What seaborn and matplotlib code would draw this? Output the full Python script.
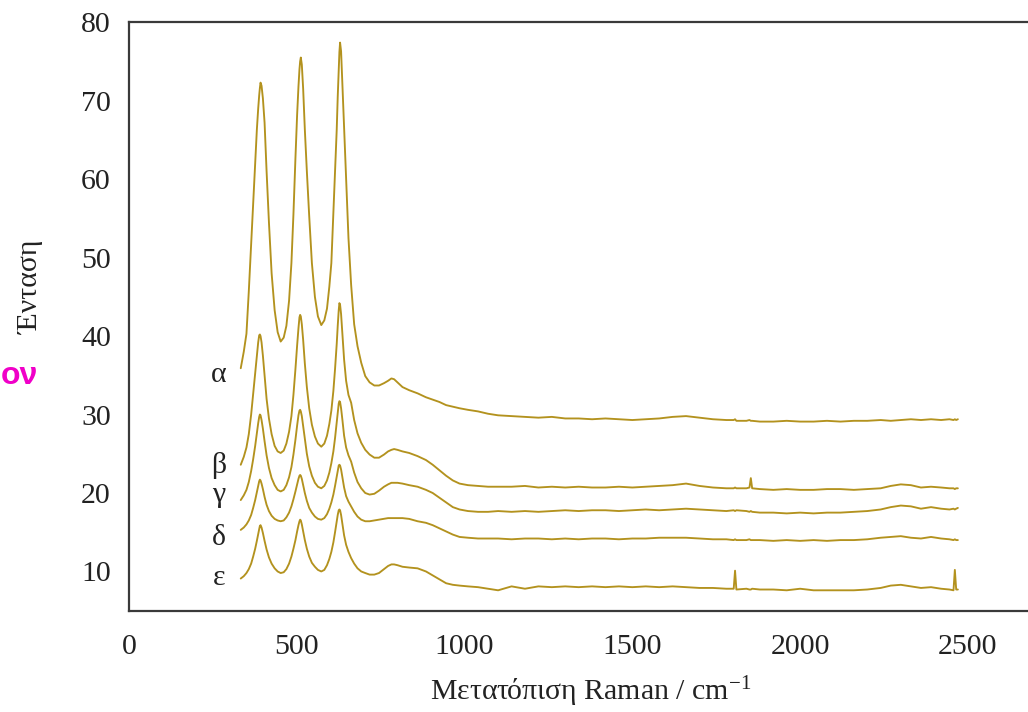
import numpy as np
import pandas as pd
import matplotlib
matplotlib.use("Agg")
import matplotlib.pyplot as plt
import seaborn as sns

# ---------------- data ----------------
wavenumber = [
    333, 342, 350, 357, 364, 370, 376, 381, 385, 388,
    390, 392, 395, 399, 404, 410, 417, 425, 434, 443,
    452, 461, 469, 477, 484, 490, 496, 501, 505, 508,
    510, 512, 515, 519, 524, 530, 537, 545, 554, 563,
    573, 582, 590, 597, 603, 609, 614, 619, 622, 625,
    627, 629, 632, 636, 641, 647, 654, 662, 671, 681,
    692, 704, 717, 731, 745, 760, 772, 782, 790, 800,
    815, 835, 860, 885, 905, 925, 945, 965, 985, 1010,
    1040, 1070, 1100,
    1140, 1180, 1220, 1260, 1300, 1340, 1380, 1420, 1460, 1500,
    1540, 1580, 1620, 1660, 1700, 1740, 1780, 1802, 1806, 1810,
    1840, 1849, 1853, 1857, 1880, 1920, 1960, 2000, 2040, 2080,
    2120, 2160, 2200, 2240, 2270, 2300, 2330, 2360, 2390, 2420,
    2445, 2457, 2461, 2465, 2470,
]

alpha = [
    35.9, 38.0, 40.3, 45.7, 51.8, 57.0, 62.0, 66.3, 69.0, 70.7,
    71.6, 72.3, 71.9, 70.3, 67.2, 61.0, 54.5, 48.0, 43.3, 40.5,
    39.3, 39.8, 41.3, 44.5, 49.3, 55.5, 62.7, 68.2, 71.8, 74.0,
    75.0, 75.5, 74.6, 71.5, 66.3, 61.0, 55.3, 49.3, 45.0, 42.5,
    41.4, 42.0, 43.5, 46.3, 49.3, 55.7, 61.0, 66.3, 70.5, 74.0,
    76.2, 77.4, 76.3, 72.0, 66.3, 60.0, 52.5, 46.5, 41.5, 38.7,
    36.6, 34.9, 34.1, 33.7, 33.7, 34.0, 34.3, 34.6, 34.5, 34.1,
    33.5, 33.1, 32.7, 32.2, 31.9, 31.6, 31.2, 31.0, 30.8, 30.6,
    30.4, 30.1, 29.9,
    29.8, 29.7, 29.6, 29.7, 29.5, 29.5, 29.4, 29.5, 29.4, 29.3,
    29.4, 29.5, 29.7, 29.8, 29.6, 29.4, 29.3, 29.3, 29.4, 29.2,
    29.2, 29.3, 29.2, 29.2, 29.1, 29.1, 29.2, 29.1, 29.1, 29.2,
    29.1, 29.2, 29.2, 29.3, 29.2, 29.3, 29.4, 29.3, 29.4, 29.3,
    29.4, 29.3, 29.4, 29.3, 29.4,
]

beta = [
    23.6, 24.6, 25.8, 27.5, 30.0, 32.6, 35.2, 37.5, 39.2, 40.1,
    40.2, 40.0, 39.2, 37.5, 35.0, 32.0, 29.5, 27.5, 26.0, 25.3,
    25.1, 25.4, 26.3, 27.8, 29.8, 32.5, 35.8, 38.8, 41.0, 42.4,
    42.7, 42.5, 41.5, 39.5, 36.5, 33.5, 30.8, 28.7, 27.2, 26.3,
    25.9, 26.3, 27.3, 28.8, 30.5, 33.0, 35.8, 39.0, 41.3, 43.3,
    44.2, 44.0, 42.8, 40.2, 37.0, 34.3, 32.5, 31.5, 29.3, 27.6,
    26.4, 25.5, 24.9, 24.5, 24.5, 24.9, 25.3, 25.5, 25.6, 25.5,
    25.3, 25.1, 24.7, 24.2, 23.6, 22.9, 22.2, 21.6, 21.2, 21.0,
    20.9, 20.8, 20.8,
    20.8, 20.9, 20.7, 20.8, 20.7, 20.8, 20.7, 20.7, 20.8, 20.7,
    20.8, 20.9, 21.0, 21.2, 20.9, 20.7, 20.6, 20.6, 20.7, 20.6,
    20.6, 20.7, 21.9, 20.6, 20.5, 20.4, 20.5, 20.4, 20.4, 20.5,
    20.5, 20.4, 20.5, 20.6, 20.9, 21.1, 21.0, 20.7, 20.8, 20.7,
    20.6, 20.6, 20.5, 20.6, 20.6,
]

gamma = [
    19.1, 19.7, 20.4, 21.4, 22.8, 24.3, 26.0, 27.6, 28.9, 29.7,
    30.0, 29.9, 29.3, 28.2, 26.6, 24.8, 23.2, 21.9, 21.0, 20.4,
    20.2, 20.4, 21.0, 22.0, 23.3, 24.9, 26.8, 28.6, 29.9, 30.5,
    30.6, 30.4, 29.8, 28.5, 26.8, 25.0, 23.4, 22.2, 21.3, 20.8,
    20.6, 20.9, 21.6, 22.6, 23.8, 25.3, 27.0, 29.0, 30.3, 31.4,
    31.7, 31.6, 30.8, 29.3, 27.3, 25.8, 24.8, 24.0, 22.6, 21.4,
    20.6, 20.0, 19.8, 19.9, 20.3, 20.8, 21.1, 21.3, 21.3, 21.3,
    21.2, 21.0, 20.8, 20.4, 20.0, 19.4, 18.8, 18.2, 17.9, 17.7,
    17.6, 17.6, 17.7,
    17.6, 17.7, 17.6, 17.7, 17.8, 17.7, 17.8, 17.8, 17.7, 17.8,
    17.9, 17.8, 17.9, 18.0, 17.9, 17.8, 17.7, 17.8, 17.7, 17.8,
    17.7, 17.6, 17.7, 17.6, 17.5, 17.5, 17.4, 17.5, 17.4, 17.5,
    17.5, 17.6, 17.7, 17.9, 18.2, 18.4, 18.3, 18.0, 18.2, 18.0,
    17.9, 18.0, 17.9, 18.0, 18.1,
]

delta = [
    15.3, 15.6, 16.0, 16.5, 17.2, 18.1, 19.1, 20.1, 20.9, 21.5,
    21.7, 21.6, 21.2, 20.5, 19.5, 18.5, 17.7, 17.1, 16.7, 16.5,
    16.4, 16.5, 16.9, 17.5, 18.3, 19.2, 20.2, 21.1, 21.8, 22.2,
    22.3, 22.2, 21.8, 21.0, 20.0, 19.0, 18.1, 17.5, 17.0, 16.7,
    16.6, 16.8, 17.3, 18.0, 18.8, 19.8, 20.9, 22.1, 22.9, 23.5,
    23.6, 23.5, 23.0, 22.0, 20.7, 19.6, 18.9, 18.3, 17.6, 17.0,
    16.6, 16.4, 16.4, 16.5, 16.6, 16.7, 16.8, 16.8, 16.8, 16.8,
    16.8, 16.7, 16.4, 16.2, 15.9, 15.5, 15.1, 14.7, 14.4, 14.3,
    14.2, 14.2, 14.2,
    14.1, 14.2, 14.2, 14.1, 14.2, 14.1, 14.2, 14.2, 14.1, 14.2,
    14.2, 14.3, 14.3, 14.3, 14.2, 14.1, 14.1, 14.0, 14.1, 14.0,
    14.0, 14.1, 14.0, 14.0, 14.0, 13.9, 14.0, 13.9, 14.0, 13.9,
    14.0, 14.0, 14.1, 14.3, 14.4, 14.5, 14.3, 14.2, 14.4, 14.2,
    14.1, 14.0, 14.1, 14.0, 14.0,
]

epsilon = [
    9.1, 9.4, 9.8, 10.3, 11.0, 11.9, 12.9, 13.9, 14.8, 15.4,
    15.8, 15.9, 15.6, 14.9, 13.9, 12.8, 11.8, 11.0, 10.4, 10.0,
    9.8, 9.9, 10.3, 11.0, 11.9, 12.9, 14.0, 15.1, 15.9, 16.4,
    16.6, 16.5, 16.0, 15.1, 14.0, 12.9, 11.9, 11.1, 10.6, 10.2,
    10.0, 10.2, 10.8, 11.6, 12.5, 13.7, 15.0, 16.4, 17.2, 17.8,
    17.9, 17.8, 17.2, 16.0, 14.6, 13.4, 12.5, 11.7, 11.0, 10.4,
    10.0, 9.8, 9.6, 9.6, 9.8, 10.3, 10.7, 10.9, 10.9, 10.8,
    10.6, 10.5, 10.4, 10.0, 9.5, 9.0, 8.5, 8.3, 8.2, 8.1,
    8.0, 7.8, 7.6,
    8.1, 7.8, 8.1, 8.0, 8.1, 8.0, 8.1, 8.0, 8.1, 8.0,
    8.1, 8.0, 8.1, 8.0, 7.9, 7.9, 7.8, 7.8, 10.1, 7.7,
    7.8, 7.7, 7.7, 7.8, 7.7, 7.7, 7.6, 7.8, 7.6, 7.6,
    7.6, 7.6, 7.7, 7.9, 8.2, 8.3, 8.1, 7.9, 8.0, 7.8,
    7.7, 7.6, 10.2, 7.7, 7.7,
]

series_names = ["α", "β", "γ", "δ", "ε"]
label_x = [268, 268, 268, 268, 268]
label_y = [34.2, 22.6, 18.9, 13.4, 8.3]
x_ticks = [0, 500, 1000, 1500, 2000, 2500]
y_ticks = [10, 20, 30, 40, 50, 60, 70, 80]

all_y = [alpha, beta, gamma, delta, epsilon]
for ys in all_y:
    assert len(ys) == len(wavenumber)

df = pd.concat(
    [pd.DataFrame({"x": wavenumber, "y": ys, "series": name})
     for name, ys in zip(series_names, all_y)],
    ignore_index=True,
)

# ---------------- style ----------------
sns.set_theme(style="white")
plt.rcParams["font.family"] = ["Liberation Serif", "DejaVu Serif"]
plt.rcParams["mathtext.fontset"] = "custom"
plt.rcParams["mathtext.rm"] = "Liberation Serif"
plt.rcParams["mathtext.it"] = "Liberation Serif:italic"

LINE = "#b3921e"
SPINE = "#3a3a3a"
FS = 21.5

fig = plt.figure(figsize=(10.28, 7.12), dpi=100)
ax = fig.add_axes([129 / 1028, 101.3 / 712, 899 / 1028, 588.5 / 712])

sns.lineplot(data=df, x="x", y="y", units="series", estimator=None,
             sort=False, color=LINE, linewidth=1.35, ax=ax, legend=False)

ax.set_xlim(0, 2679)
ax.set_ylim(5, 80)
ax.set_xticks(x_ticks)
ax.set_yticks(y_ticks)
ax.tick_params(axis="y", direction="in", length=12, width=1.2,
               color=SPINE, pad=13, labelsize=FS, labelcolor="#222222")
ax.tick_params(axis="x", length=0, pad=17, labelsize=FS,
               labelcolor="#222222")

for side in ["left", "top", "bottom"]:
    ax.spines[side].set_visible(True)
    ax.spines[side].set_color(SPINE)
    ax.spines[side].set_linewidth(1.6)
ax.spines["right"].set_visible(False)

ax.set_xlabel("Μετατόπιση Raman / cm$^{\\mathrm{-1}}$", fontsize=FS,
              color="#222222")
ax.xaxis.set_label_coords(0.513, -0.108)
ax.set_ylabel("Ένταση", fontsize=FS, color="#222222")
ax.yaxis.set_label_coords(-0.094, 0.549)

for name, lx, ly in zip(series_names, label_x, label_y):
    ax.text(lx, ly, name, fontsize=FS, ha="center", va="baseline",
            color="#222222")

# magenta fragment at the left edge of the image
fig.text(1 / 1028, 1 - 384 / 712, "ον", fontsize=23, fontweight="bold",
         color="#f000c8", ha="left", va="baseline",
         family=["Liberation Sans", "DejaVu Sans"])

fig.savefig("out.png", dpi=100)
